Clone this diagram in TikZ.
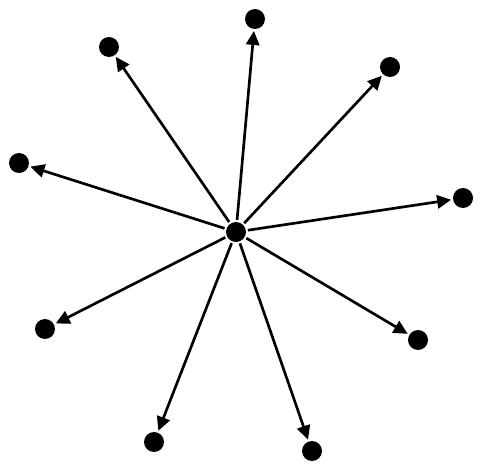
\documentclass[tikz,border=0pt]{standalone}
\usetikzlibrary{arrows.meta}
\begin{document}
\begin{tikzpicture}[x=0.75pt,y=-0.75pt,
  dot/.style={circle,fill=black,inner sep=0pt,minimum size=15pt,outer sep=1.5pt},
  edge/.style={line width=2pt,-{Triangle[length=10.5pt,width=10pt]}}]
\useasboundingbox (0,0) rectangle (482,470);
\node[dot] (c) at (236,232) {};
\node[dot] (n1) at (255,19) {};
\node[dot] (n2) at (109,47) {};
\node[dot] (n3) at (390,67) {};
\node[dot] (n4) at (19,163) {};
\node[dot] (n5) at (463,198) {};
\node[dot] (n6) at (45,329) {};
\node[dot] (n7) at (418,340) {};
\node[dot] (n8) at (154,442) {};
\node[dot] (n9) at (312,451) {};
\foreach \n in {n1,n2,n3,n4,n5,n6,n7,n8,n9}
  \draw[edge] (c) -- (\n);
\end{tikzpicture}
\end{document}
